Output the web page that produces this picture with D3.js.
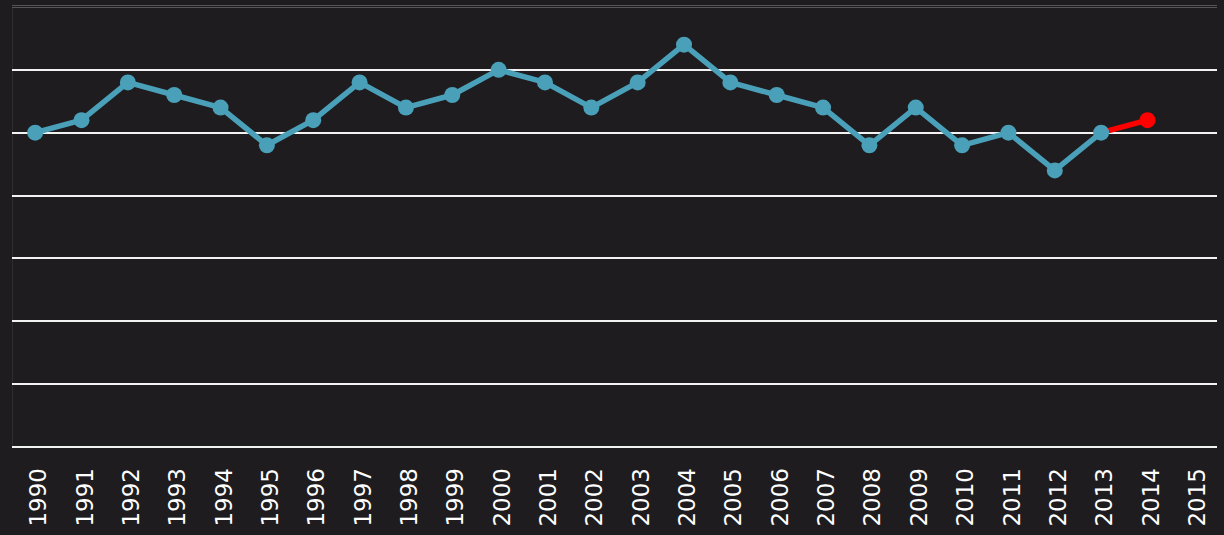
<!DOCTYPE html>
<html>
<head>
<meta charset="utf-8">
<script src="https://cdn.jsdelivr.net/npm/d3@7"></script>
<style>
  html, body { margin: 0; padding: 0; background: #1e1c1f; }
  svg { display: block; }
</style>
</head>
<body>
<div id="chart"></div>
<script>
// years on the axis (2015 has no value)
var years = d3.range(1990, 2016).map(String);
var values = [25, 26, 29, 28, 27, 24, 26, 29, 27, 28, 30, 29, 27, 29, 32, 29, 28, 27, 24, 27, 24, 25, 22, 25, 26];
var gridTicks = [0, 5, 10, 15, 20, 25, 30];

var width = 1224, height = 535;
var m = {top: 7, right: 7, bottom: 88, left: 12};

var svg = d3.select('#chart').append('svg')
    .attr('width', width).attr('height', height);

svg.append('rect').attr('width', width).attr('height', height).attr('fill', '#1e1c1f');

var x = d3.scaleBand().domain(years).range([m.left, width - m.right]);
var y = d3.scaleLinear().domain([0, 35]).range([height - m.bottom, m.top]);

// left border
svg.append('line')
    .attr('x1', m.left + 0.5).attr('x2', m.left + 0.5)
    .attr('y1', m.top).attr('y2', y(0))
    .attr('stroke', '#2e2c2f').attr('stroke-width', 1);

// top border (double grey)
[m.top - 1.5, m.top + 0.5].forEach(function (yy) {
    svg.append('line')
        .attr('x1', m.left).attr('x2', width - m.right)
        .attr('y1', yy).attr('y2', yy)
        .attr('stroke', '#555457').attr('stroke-width', 1);
});

// gridlines
svg.append('g').selectAll('line').data(gridTicks).enter().append('line')
    .attr('x1', m.left).attr('x2', width - m.right)
    .attr('y1', function (d) { return Math.round(y(d)); })
    .attr('y2', function (d) { return Math.round(y(d)); })
    .attr('stroke', '#f2f2f2').attr('stroke-width', 2);

// x axis labels
var xAxis = d3.axisBottom(x).tickSize(0).tickPadding(0);
var gx = svg.append('g').attr('transform', 'translate(0,' + (y(0) + 21) + ')').call(xAxis);
gx.select('.domain').remove();
gx.selectAll('text')
    .attr('transform', 'rotate(-90)')
    .attr('text-anchor', 'end')
    .attr('x', 0).attr('y', 3).attr('dy', '0.35em')
    .attr('fill', '#ffffff')
    .style('font-family', '"DejaVu Sans", sans-serif')
    .style('font-size', '23px');

var pts = values.map(function (v, i) { return {year: years[i], value: v}; });
var line = d3.line()
    .x(function (d) { return x(d.year) + x.bandwidth() / 2; })
    .y(function (d) { return y(d.value); });

var blue = '#4aa0b9', red = '#ff0000';
var main = pts.slice(0, pts.length - 1);
var last = pts.slice(pts.length - 2);

svg.append('path').datum(last).attr('d', line)
    .attr('fill', 'none').attr('stroke', red).attr('stroke-width', 5.5);
svg.append('path').datum(main).attr('d', line)
    .attr('fill', 'none').attr('stroke', blue).attr('stroke-width', 5.5)
    .attr('stroke-linejoin', 'round');

svg.append('g').selectAll('circle').data(pts).enter().append('circle')
    .attr('cx', function (d) { return x(d.year) + x.bandwidth() / 2; })
    .attr('cy', function (d) { return y(d.value); })
    .attr('r', 8)
    .attr('fill', function (d, i) { return i === pts.length - 1 ? red : blue; });
</script>
</body>
</html>
